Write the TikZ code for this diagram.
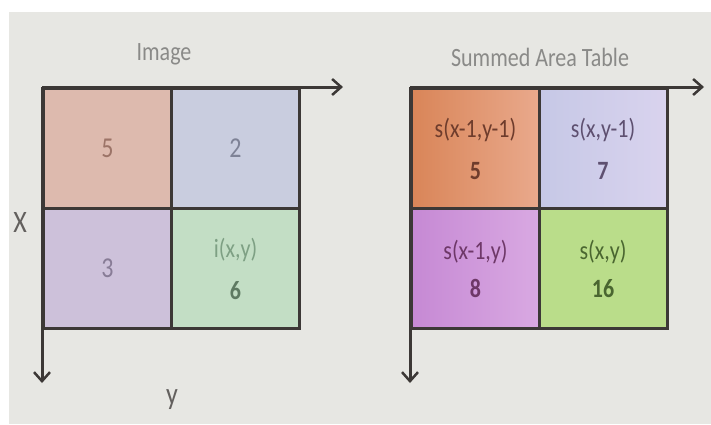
\documentclass[tikz,border=0pt]{standalone}
\usepackage{fontspec}
\setmainfont{Carlito}
\usetikzlibrary{arrows.meta}
\newcommand{\tl}[1]{\scalebox{1}[1.2]{#1}}
\definecolor{bg}{HTML}{E7E7E3}
\definecolor{gridline}{HTML}{3C3836}
\definecolor{lsalmon}{HTML}{DDBAAE}
\definecolor{lblue}{HTML}{C9CDDF}
\definecolor{lpurple}{HTML}{CDC1DA}
\definecolor{lgreen}{HTML}{C3DEC5}
\definecolor{rorangeA}{HTML}{D98558}
\definecolor{rorangeB}{HTML}{E9A98C}
\definecolor{rlavA}{HTML}{C6C8E6}
\definecolor{rlavB}{HTML}{D9D3EE}
\definecolor{rpurpA}{HTML}{C689D4}
\definecolor{rpurpB}{HTML}{D9A9E2}
\definecolor{rgreen}{HTML}{BADD8A}
\definecolor{titlegray}{HTML}{8A8A88}
\definecolor{t1}{HTML}{9C7468}
\definecolor{t2}{HTML}{7E8296}
\definecolor{t3}{HTML}{887C96}
\definecolor{t4}{HTML}{7EA084}
\definecolor{t4b}{HTML}{5E7A62}
\definecolor{u1}{HTML}{6E3C2C}
\definecolor{u2}{HTML}{5E5070}
\definecolor{u3}{HTML}{6E3868}
\definecolor{u4}{HTML}{4A6630}
\begin{document}
\begin{tikzpicture}[x=1pt,y=-1pt,
  cell/.style={draw=gridline,line width=3pt,minimum width=128pt,minimum height=120pt,
    inner sep=0pt,anchor=north west,align=center,font=\fontsize{22}{24}\selectfont},
  axis/.style={draw=gridline,line width=3pt,-{Straight Barb[length=9pt,width=16pt,line width=2.5pt]}},
  title/.style={text=titlegray,font=\fontsize{22}{24}\selectfont},
  axlabel/.style={text=gridline!80,font=\fontsize{26}{28}\selectfont}]
\useasboundingbox (0,0) rectangle (711,424);
\fill[white] (0,0) rectangle (711,424);
\fill[bg] (9,12) rectangle (711,424);
% left grid
\node[cell,fill=lsalmon,text=t1,font=\fontsize{24}{26}\selectfont] (a1) at (42,87) {\tl{5}};
\node[cell,fill=lblue,text=t2,font=\fontsize{24}{26}\selectfont] (a2) at (170,87) {\tl{2}};
\node[cell,fill=lpurple,text=t3,font=\fontsize{24}{26}\selectfont] (a3) at (42,207) {\tl{3}};
\node[cell,fill=lgreen,text=t4] (a4) at (170,207) {\tl{i(x,y)}\\[18pt]\tl{\textcolor{t4b}{\textbf{6}}}};
\coordinate (lo) at (42,87);
\coordinate (lxe) at (343,87);
\coordinate (lye) at (42,383);
\draw[axis] (lo) -- (lxe);
\draw[axis] (lo) -- (lye);
\node[title] (ltitle) at (164,54) {\tl{Image}};
\node[axlabel] (lx) at (20,222) {\tl{X}};
\node[axlabel] (ly) at (172,400) {\tl{y}};
% right grid
\node[cell,left color=rorangeA,right color=rorangeB,text=u1] (b1) at (410,87) {\tl{s(x-1,y-1)}\\[18pt]\tl{\textbf{5}}};
\node[cell,left color=rlavA,right color=rlavB,text=u2] (b2) at (537.5,87) {\tl{s(x,y-1)}\\[18pt]\tl{\textbf{7}}};
\node[cell,left color=rpurpA,right color=rpurpB,text=u3] (b3) at (410,207) {\tl{s(x-1,y)}\\[14pt]\tl{\textbf{8}}};
\node[cell,fill=rgreen,text=u4] (b4) at (537.5,207) {\tl{s(x,y)}\\[14pt]\tl{\textbf{16}}};
\coordinate (ro) at (410,87);
\coordinate (rxe) at (704,87);
\coordinate (rye) at (410,383);
\draw[axis] (ro) -- (rxe);
\draw[axis] (ro) -- (rye);
\node[title] (rtitle) at (540,57) {\tl{Summed Area Table}};
\end{tikzpicture}
\end{document}
